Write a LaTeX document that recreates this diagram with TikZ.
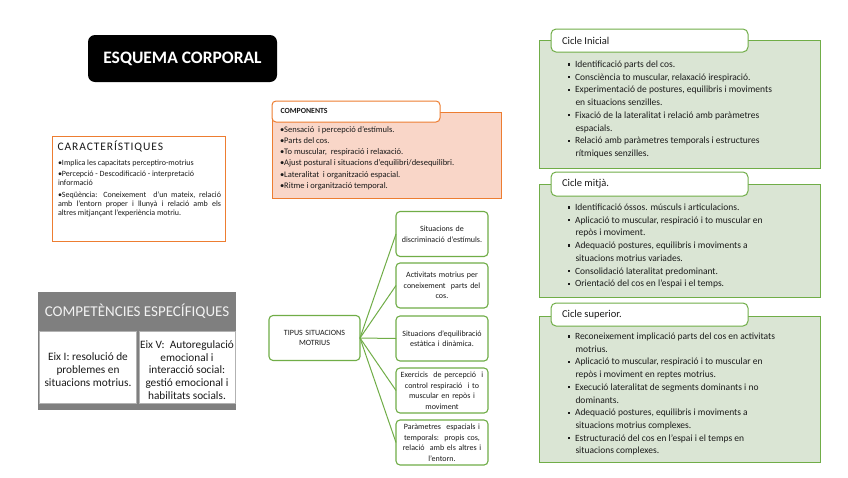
\documentclass[tikz,border=0pt]{standalone}
\usepackage{fontspec}
\setmainfont{Carlito}
\definecolor{orangeC}{HTML}{ED7D31}
\definecolor{salmonF}{HTML}{F9D6C8}
\definecolor{greenC}{HTML}{70AD47}
\definecolor{greenF}{HTML}{DAE5D4}
\definecolor{grayH}{HTML}{7F7F7F}
\definecolor{grayT}{HTML}{F2F2F2}
\definecolor{txtC}{HTML}{1A1A1A}
\newcommand{\sqbul}{\makebox[7pt][l]{\raisebox{2pt}{\rule{2.2pt}{2.2pt}}}}
\newcommand{\citem}[1]{\par\hangindent=7.5pt\hangafter=1\noindent\sqbul#1\par}
\newcommand{\mylist}[2]{\begin{minipage}[t]{#1}\raggedright #2\end{minipage}}
\begin{document}
\begin{tikzpicture}[x=1pt,y=-1pt,
  every node/.style={inner sep=0pt, outer sep=0pt, text=txtC},
  shapebox/.style={rectangle, anchor=north west},
  titlebox/.style={shapebox, fill=black, rounded corners=7pt, text=white, font=\fontsize{17.5}{20}\selectfont\bfseries},
  orngbox/.style={shapebox, draw=orangeC, line width=1pt, fill=white},
  orngpanel/.style={shapebox, draw=orangeC, line width=1pt, fill=salmonF},
  orngtab/.style={shapebox, draw=orangeC, line width=1pt, fill=white, rounded corners=4pt},
  grnpanel/.style={shapebox, draw=greenC, line width=1pt, fill=greenF},
  grntab/.style={shapebox, draw=greenC, line width=1pt, fill=white, rounded corners=5pt},
  grnbox/.style={rectangle, draw=greenC, line width=1.1pt, fill=white, rounded corners=4pt, minimum width=92pt, minimum height=45pt, text width=89pt, align=center, font=\fontsize{8}{10.5}\selectfont},
  conn/.style={draw=greenC, line width=1pt},
  cycletxt/.style={anchor=base west, font=\fontsize{9.5}{12.7}\selectfont},
  tablabel/.style={anchor=west, font=\fontsize{10.5}{12}\selectfont},
  cell/.style={shapebox, fill=white, draw=gray!60, line width=0.4pt},
  celltxt/.style={align=center, font=\fontsize{11.3}{12.7}\selectfont}
]
\useasboundingbox[fill=white] (0,0) rectangle (848,477);

% Title
\node[titlebox, minimum width=189pt, minimum height=47pt] (title) at (88,35) {ESQUEMA CORPORAL};

% Caracteristiques
\node[orngbox, minimum width=173pt, minimum height=105pt] (car) at (52,136) {};
\node[anchor=west, font=\fontsize{11.5}{13}\selectfont\addfontfeature{LetterSpace=8}] (carhead) at (57.5,146.5) {CARACTERÍSTIQUES};
\node[anchor=base west, font=\fontsize{8}{9.2}\selectfont] (cartxt) at (58,165.8) {\mylist{163pt}{%
\textbullet Implica les capacitats perceptiro-motrius\par\vspace{1.2pt}
\textbullet Percepció - Descodificació - interpretació\\informació\par\vspace{2.6pt}
{\rightskip=0pt\relax
\textbullet Seqüència: Coneixement\ \ d'un mateix, relació\linebreak
amb l'entorn proper i llunyà i relació amb els\linebreak
altres mitjançant l'experiència motriu.\par}}};

% Components
\node[orngpanel, minimum width=229pt, minimum height=86pt] (comp) at (272,112) {};
\node[orngtab, minimum width=168pt, minimum height=21pt] (comptab) at (272,101) {};
\node[anchor=west, font=\fontsize{7.8}{9}\selectfont\bfseries] (complabel) at (280.5,111) {COMPONENTS};
\node[anchor=base west, font=\fontsize{8.5}{11.3}\selectfont] (comptxt) at (280,132) {\mylist{215pt}{%
\textbullet Sensació\ \ i percepció d'estímuls.\\
\textbullet Parts del cos.\\
\textbullet To muscular,\ \ respiració i relaxació.\\
\textbullet Ajust postural i situacions d'equilibri/desequilibri.\\
\textbullet Lateralitat\ \ i organització espacial.\\
\textbullet Ritme i organització temporal.}};

% Competencies
\node[shapebox, fill=grayH, minimum width=198pt, minimum height=118pt] (comptable) at (38,292) {};
\node[cell, minimum width=97pt, minimum height=72pt] (cellL) at (39.5,331) {};
\node[cell, minimum width=96pt, minimum height=72pt] (cellR) at (139,331) {};
\node[font=\fontsize{15}{17}\selectfont, text=grayT] (comphead) at (137,311.5) {COMPETÈNCIES ESPECÍFIQUES};
\node[celltxt] (cellLtxt) at (88,369.5) {Eix I: resolució de\\problemes en\\situacions motrius.};
\node[celltxt] (cellRtxt) at (187,370) {Eix V:\ \ Autoregulació\\emocional i\\interacció social:\\gestió emocional i\\habilitats socials.};

% Tipus situacions
\node[grnbox, minimum width=91pt, font=\fontsize{8}{10}\selectfont] (tipus) at (314.5,338) {TIPUS SITUACIONS\\MOTRIUS};
\node[grnbox] (b1) at (442,234) {Situacions de\\discriminació d'estímuls.};
\node[grnbox] (b2) at (442,285.5) {Activitats motrius per\\coneixement\ \ parts del\\cos.};
\node[grnbox] (b3) at (442,338.5) {Situacions d'equilibració\\estàtica i dinàmica.};
\node[grnbox] (b4) at (442,390.5) {Exercicis\ \ de percepció\ \ i\\control respiració\ \ i to\\muscular en repòs i\\moviment};
\node[grnbox] (b5) at (442,442.5) {Paràmetres\ \ espacials i\\temporals:\ \ propis cos,\\relació\ \ amb els altres i\\l'entorn.};
\foreach \b in {b1,b2,b3,b4,b5} \draw[conn] (tipus.east) -- (\b.west);

% Cicle Inicial
\node[grnpanel, minimum width=281pt, minimum height=128pt] (ciP) at (539,40) {};
\node[grntab, minimum width=197pt, minimum height=23pt] (ciT) at (551,29) {};
\node[tablabel] (ciL) at (562,40.5) {Cicle Inicial};
\node[cycletxt] (ciTxt) at (568,67.5) {\mylist{250pt}{%
\citem{Identificació parts del cos.}
\citem{Consciència to muscular, relaxació irespiració.}
\citem{Experimentació de postures, equilibris i moviments\newline en situacions senzilles.}
\citem{Fixació de la lateralitat i relació amb paràmetres\newline espacials.}
\citem{Relació amb paràmetres temporals i estructures\newline rítmiques senzilles.}}};

% Cicle mitja
\node[grnpanel, minimum width=281pt, minimum height=113pt] (cmP) at (539,184) {};
\node[grntab, minimum width=197pt, minimum height=24pt] (cmT) at (551,172) {};
\node[tablabel] (cmL) at (562,184) {Cicle mitjà.};
\node[cycletxt] (cmTxt) at (568,210.5) {\mylist{250pt}{%
\citem{Identificació óssos. músculs i articulacions.}
\citem{Aplicació to muscular, respiració i to muscular en\newline repòs i moviment.}
\citem{Adequació postures, equilibris i moviments a\newline situacions motrius variades.}
\citem{Consolidació lateralitat predominant.}
\citem{Orientació del cos en l'espai i el temps.}}};

% Cicle superior
\node[grnpanel, minimum width=281pt, minimum height=146pt] (csP) at (539,316) {};
\node[grntab, minimum width=197pt, minimum height=23pt] (csT) at (551,303) {};
\node[tablabel] (csL) at (562,314.5) {Cicle superior.};
\node[cycletxt] (csTxt) at (568,339.5) {\mylist{250pt}{%
\citem{Reconeixement implicació parts del cos en activitats\newline motrius.}
\citem{Aplicació to muscular, respiració i to muscular en\newline repòs i moviment en reptes motrius.}
\citem{Execució lateralitat de segments dominants i no\newline dominants.}
\citem{Adequació postures, equilibris i moviments a\newline situacions motrius complexes.}
\citem{Estructuració del cos en l'espai i el temps en\newline situacions complexes.}}};
\end{tikzpicture}
\end{document}
